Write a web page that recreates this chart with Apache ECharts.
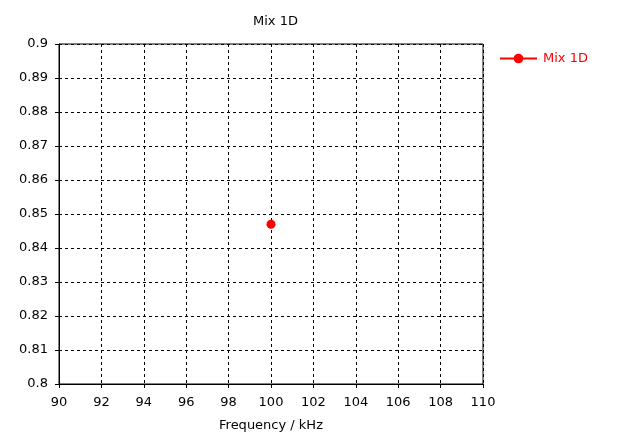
<!DOCTYPE html>
<html>
<head>
<meta charset="utf-8">
<script src="https://cdn.jsdelivr.net/npm/echarts@6/dist/echarts.min.js"></script>
<style>html,body{margin:0;padding:0;background:#fff;}#c{width:619px;height:438px;}</style>
</head>
<body>
<div id="c"></div>
<script>
const seriesName = 'Mix 1D';
const frequency = [100];
const values = [0.847];
const xTicks = {min: 90, max: 110, interval: 2};
const yTicks = {min: 0.8, max: 0.9, interval: 0.01};

const chart = echarts.init(document.getElementById('c'));
const font = 'DejaVu Sans';
chart.setOption({
  animation: false,
  backgroundColor: '#fff',
  title: {text: seriesName, left: 248, top: 10,
    textStyle: {fontFamily: font, fontSize: 13, fontWeight: 'normal', color: '#000'}},
  legend: {left: 494, top: 47, itemWidth: 37, itemHeight: 12, itemGap: 6,
    textStyle: {fontFamily: font, fontSize: 13, color: '#ff0000', padding: [0, 0, 0, 1]},
    data: [seriesName]},
  grid: {left: 59, right: 136, top: 44, bottom: 54, show: true, borderColor: '#000', borderWidth: 1},
  xAxis: {type: 'value', min: xTicks.min, max: xTicks.max, interval: xTicks.interval,
    name: 'Frequency / kHz', nameLocation: 'middle', nameGap: 35,
    nameTextStyle: {fontFamily: font, fontSize: 13, color: '#000'},
    axisLine: {lineStyle: {color: '#000'}},
    axisTick: {show: true, length: 4, lineStyle: {color: '#000'}},
    axisLabel: {fontFamily: font, fontSize: 13, color: '#000', margin: 12},
    splitLine: {show: true, lineStyle: {color: '#000', type: [3, 3], width: 1}}},
  yAxis: {type: 'value', min: yTicks.min, max: yTicks.max, interval: yTicks.interval,
    axisLine: {show: true, lineStyle: {color: '#000'}},
    axisTick: {show: true, length: 4, lineStyle: {color: '#000'}},
    axisLabel: {fontFamily: font, fontSize: 13, color: '#000', margin: 11},
    splitLine: {show: true, lineStyle: {color: '#000', type: [3, 3], width: 1}}},
  series: [{
    name: seriesName, type: 'line', data: frequency.map((f, i) => [f, values[i]]),
    symbol: 'circle', symbolSize: 9, showSymbol: true,
    itemStyle: {color: '#ff0000'}, lineStyle: {color: '#ff0000', width: 2}
  }]
});
</script>
</body>
</html>
